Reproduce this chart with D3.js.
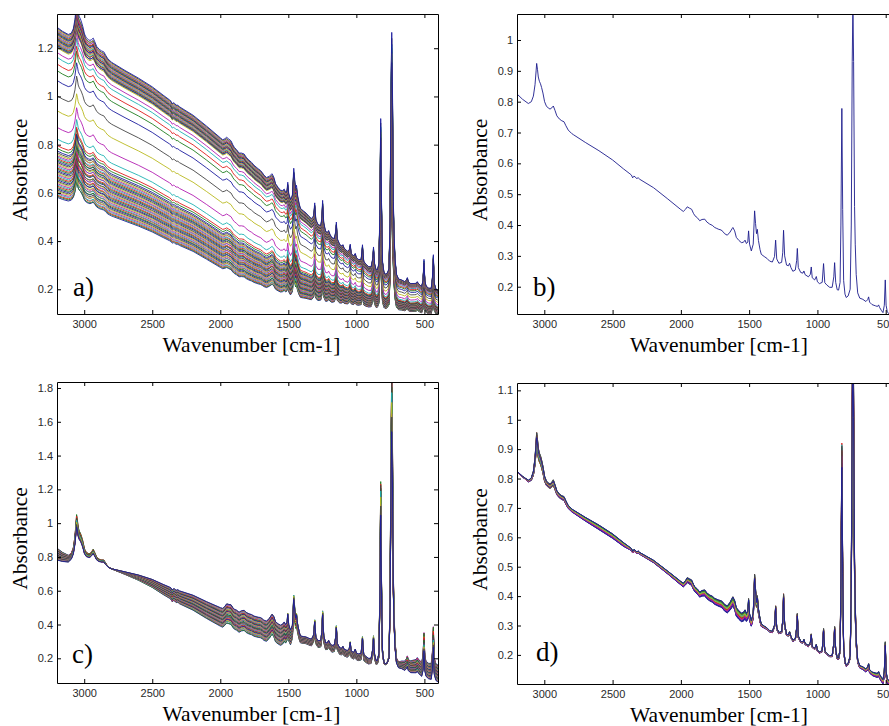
<!DOCTYPE html>
<html><head><meta charset="utf-8">
<script src="https://cdn.jsdelivr.net/npm/d3@7"></script>
<style>body{margin:0;background:#fff}svg{display:block}</style>
</head><body>
<svg id="chart" width="889" height="726"></svg>
<script>
// ---------------- DATA ----------------
// Mean spectrum shown in panel b): wavenumber [cm-1] and absorbance
const wavenumbers = [3200,3160,3117,3095,3080,3068,3060,3056,3050,3044,3036,3028,3020,3010,2998,2985,2970,2958,2945,2934,2922,2908,2890,2872,2856,2842,2825,2800,2787,2700,2600,2500,2420,2373,2362,2353,2345,2336,2325,2312,2300,2200,2100,2000,1982,1966,1953,1938,1921,1908,1897,1880,1862,1845,1825,1810,1789,1770,1752,1737,1722,1706,1692,1680,1660,1640,1625,1619,1606,1594,1575,1557,1542,1530,1520,1510,1504,1497,1484,1470,1460,1453,1446,1440,1432,1420,1411,1390,1370,1350,1330,1314,1306,1298,1282,1262,1254,1248,1240,1226,1212,1204,1194,1180,1162,1152,1147,1140,1122,1106,1099,1090,1066,1052,1045,1038,1020,1008,1000,985,965,955,946,930,910,892,880,874,866,855,845,834,828,821,815,808,798,789,775,760,752,745,740,735,728,723,716,705,690,667,645,632,625,618,600,575,560,552,545,530,520,510,503,497,488,470,450,441,434,428,415,400];
const meanAbsorbance = [0.825,0.808,0.794,0.800,0.818,0.855,0.900,0.924,0.905,0.880,0.866,0.858,0.846,0.828,0.800,0.786,0.779,0.776,0.780,0.786,0.772,0.754,0.744,0.738,0.735,0.722,0.708,0.697,0.693,0.668,0.641,0.611,0.582,0.566,0.562,0.553,0.558,0.557,0.551,0.553,0.548,0.521,0.486,0.450,0.444,0.451,0.459,0.455,0.451,0.438,0.430,0.424,0.414,0.418,0.419,0.410,0.403,0.399,0.392,0.389,0.386,0.384,0.379,0.372,0.367,0.377,0.388,0.392,0.381,0.360,0.350,0.343,0.344,0.351,0.340,0.345,0.381,0.338,0.316,0.338,0.446,0.405,0.372,0.386,0.350,0.320,0.305,0.298,0.292,0.283,0.280,0.298,0.351,0.290,0.276,0.279,0.310,0.383,0.300,0.270,0.268,0.276,0.262,0.250,0.254,0.285,0.324,0.262,0.246,0.244,0.251,0.239,0.232,0.240,0.264,0.229,0.222,0.233,0.216,0.210,0.214,0.275,0.213,0.205,0.198,0.198,0.232,0.278,0.214,0.190,0.189,0.214,0.400,0.778,0.450,0.220,0.176,0.165,0.170,0.192,0.400,0.930,1.120,0.930,0.460,0.338,0.240,0.180,0.163,0.159,0.152,0.158,0.167,0.150,0.142,0.138,0.136,0.141,0.133,0.122,0.116,0.140,0.222,0.140,0.118,0.110,0.108,0.150,0.240,0.130,0.105,0.100];

// Smooth baseline under the peaks of the mean spectrum (valleys of panel b)
const baselineWn  = [3200,3117,2787,2373,2300,1982,1860,1680,1557,1484,1411,1350,1280,1225,1180,1120,1065,1020,985,930,855,789,690,600,520,470,400];
const baselineAbs = [0.825,0.794,0.693,0.566,0.548,0.444,0.413,0.372,0.343,0.316,0.305,0.283,0.275,0.268,0.250,0.245,0.232,0.222,0.210,0.205,0.190,0.165,0.160,0.142,0.116,0.110,0.100];

// Panel a) raw spectra: baseline edges of the bundle, level of each spectrum inside it, peak scale
const anchorsA   = [3200,2780,2270,1855,1400,1000,715,400];
const upperEdgeA = [1.287,1.135,0.945,0.761,0.530,0.330,0.245,0.195];
const lowerEdgeA = [0.582,0.500,0.374,0.250,0.165,0.135,0.115,0.095];
const levelsA = [0,0.007,0.013,0.021,0.028,0.036,0.043,0.051,0.058,0.066,0.073,0.081,0.089,0.096,0.104,0.112,0.119,0.127,0.135,0.142,0.150,0.158,0.166,0.173,0.181,0.189,0.197,0.205,0.213,0.221,0.229,0.237,0.245,0.254,0.263,0.273,0.288,0.305,
  0.343,0.411,0.509,0.597,0.687,0.745,0.784,0.824,0.852,
  0.882,0.888,0.893,0.898,0.903,0.908,0.914,0.919,0.924,0.929,0.934,0.939,0.944,0.949,0.954,0.959,0.964,0.969,0.974,0.979,0.984,0.989,0.995,1.0];
const peakScaleA = [0.62,0.58,0.66,0.60,0.71,0.57,0.64,0.69,0.61,0.74,0.59,0.67,0.63,0.72,0.60,0.68,0.65,0.76,0.62,0.70,0.58,0.73,0.66,0.64,0.78,0.61,0.69,0.67,0.75,0.63,0.71,0.68,0.80,0.66,0.72,0.70,0.77,0.74,
  0.78,0.80,0.74,0.83,0.79,0.85,0.81,0.84,0.86,
  0.88,0.95,0.86,0.99,0.90,0.93,1.02,0.87,0.97,0.91,1.00,0.89,0.94,0.98,0.90,1.04,0.88,0.96,0.92,1.01,0.91,0.97,0.93,1.06];

// Panel c) pre-processed spectra
const anchorsC = [3200,3117,2800,2350,2000,1850,1550,1400,1000,800,600,400];
const centerC  = [0.817,0.790,0.730,0.580,0.445,0.410,0.335,0.310,0.210,0.165,0.150,0.110];
const spreadC  = [-0.035,-0.020,0.000,0.035,0.055,0.060,0.060,0.020,0.020,0.005,-0.035,-0.050];
const levelsC  = [-1.0,-0.93,-0.86,-0.80,-0.74,-0.68,-0.62,-0.56,-0.50,-0.45,-0.39,-0.33,-0.28,-0.22,-0.17,-0.11,-0.06,0.0,0.05,0.11,0.16,0.22,0.27,0.33,0.38,0.44,0.50,0.55,0.61,0.67,0.73,0.79,0.85,0.91,0.96,1.0];
const peakScaleC = [1.52,1.38,1.66,1.45,1.74,1.41,1.58,1.49,1.80,1.43,1.62,1.55,1.70,1.40,1.64,1.47,1.77,1.51,1.60,1.44,1.68,1.53,1.72,1.46,1.57,1.65,1.42,1.75,1.50,1.61,1.48,1.69,1.56,1.63,1.54,1.45];

// Panel d) corrected spectra: small deviations from the mean spectrum
const anchorsD = [3200,3000,2800,2600,2400,2350,2000,1850,1700,1550,1450,1300,1000,800,600,400];
const spreadD  = [0.000,-0.010,-0.010,-0.015,-0.012,-0.006,-0.012,-0.018,-0.022,-0.030,-0.012,-0.004,-0.004,-0.004,-0.012,-0.016];
const levelsD  = [1.0,0.43,0.79,0.14,0.64,0.29,0.93,0.07,0.57,0.36,0.86,0.21,0.71,0.50,0.96,0.11,0.68,0.32,0.82,0.25,0.54,0.89,0.18,0.61,0.39,0.75,0.46,0.04,0.0];
const peakScaleD = [1.02,1.15,0.97,1.21,1.05,1.12,0.99,1.18,1.08,1.24,1.01,1.14,0.96,1.19,1.06,1.11,1.00,1.23,1.04,1.16,0.98,1.13,1.07,1.20,1.03,1.17,1.09,1.22,1.10];

// Ticks and texts
const xTickValues = [3000,2500,2000,1500,1000,500];
const yTicksA = [0.2,0.4,0.6,0.8,1,1.2];
const yTicksB = [0.2,0.3,0.4,0.5,0.6,0.7,0.8,0.9,1];
const yTicksC = [0.2,0.4,0.6,0.8,1,1.2,1.4,1.6,1.8];
const yTicksD = [0.2,0.3,0.4,0.5,0.6,0.7,0.8,0.9,1,1.1];
const panelLabels = ["a)","b)","c)","d)"];
const xTitle = "Wavenumber [cm-1]";
const yTitle = "Absorbance";
const lineColors = ["#1c1c9e","#1e7d1e","#e01c1c","#1eb2b2","#b21eb2","#b9b91e","#454545"];

// ---------------- HELPERS ----------------
function linearInterp(xsDesc, ys) {
  const X = xsDesc.slice().reverse(), Y = ys.slice().reverse();
  return x => {
    if (x <= X[0]) return Y[0];
    if (x >= X[X.length-1]) return Y[Y.length-1];
    let i = d3.bisectRight(X, x) - 1;
    const t = (x - X[i]) / (X[i+1] - X[i]);
    return Y[i] + t * (Y[i+1] - Y[i]);
  };
}
function smoothInterp(xsDesc, ys) {
  const X = xsDesc.slice().reverse(), Y = ys.slice().reverse();
  const n = X.length, d = [], m = new Array(n);
  for (let i = 0; i < n-1; i++) d.push((Y[i+1]-Y[i])/(X[i+1]-X[i]));
  m[0] = d[0]; m[n-1] = d[n-2];
  for (let i = 1; i < n-1; i++) m[i] = d[i-1]*d[i] <= 0 ? 0 : (d[i-1]+d[i])/2;
  for (let i = 0; i < n-1; i++) {
    if (d[i] === 0) { m[i] = 0; m[i+1] = 0; continue; }
    const a = m[i]/d[i], b = m[i+1]/d[i], s = a*a + b*b;
    if (s > 9) { const t = 3/Math.sqrt(s); m[i] = t*a*d[i]; m[i+1] = t*b*d[i]; }
  }
  return x => {
    if (x <= X[0]) return Y[0];
    if (x >= X[n-1]) return Y[n-1];
    let i = d3.bisectRight(X, x) - 1;
    const h = X[i+1]-X[i], t = (x - X[i]) / h;
    const t2 = t*t, t3 = t2*t;
    return (2*t3-3*t2+1)*Y[i] + (t3-2*t2+t)*h*m[i] + (-2*t3+3*t2)*Y[i+1] + (t3-t2)*h*m[i+1];
  };
}

const baseline = linearInterp(baselineWn, baselineAbs);
const peakPart = meanAbsorbance.map((v, k) => v - baseline(wavenumbers[k]));

function buildCurves(centerFn, spreadFn, levels, scales, colorFn) {
  return levels.map((t, i) => ({
    color: colorFn(i),
    points: wavenumbers.map((w, k) => [w, centerFn(w) + t * spreadFn(w) + scales[i] * peakPart[k]])
  }));
}
const cycleColor = i => lineColors[i % lineColors.length];

const curvesA = buildCurves(smoothInterp(anchorsA, lowerEdgeA),
  smoothInterp(anchorsA, upperEdgeA.map((u, i) => u - lowerEdgeA[i])), levelsA, peakScaleA, cycleColor);
const curvesB = buildCurves(baseline, () => 0, [0], [1], () => "#1c1c8c");
const curvesC = buildCurves(smoothInterp(anchorsC, centerC), smoothInterp(anchorsC, spreadC), levelsC, peakScaleC, cycleColor);
const curvesD = buildCurves(baseline, smoothInterp(anchorsD, spreadD), levelsD, peakScaleD, cycleColor);

// ---------------- LAYOUT ----------------
const panels = [
  {x0:57,  x1:438, y0:14,  y1:314, xDomain:[3200,400], yDomain:[0.0975,1.342], yTicks:yTicksA, curves:curvesA, label:panelLabels[0], lx:16, ly:-18},
  {x0:517, x1:913, y0:14,  y1:314, xDomain:[3200,300], yDomain:[0.1115,1.0843], yTicks:yTicksB, curves:curvesB, label:panelLabels[1], lx:16, ly:-18},
  {x0:57,  x1:438, y0:382, y1:683, xDomain:[3200,400], yDomain:[0.0538,1.8355], yTicks:yTicksC, curves:curvesC, label:panelLabels[2], lx:15, ly:-20},
  {x0:517, x1:913, y0:383, y1:684, xDomain:[3200,300], yDomain:[0.101,1.125], yTicks:yTicksD, curves:curvesD, label:panelLabels[3], lx:19, ly:-23}
];

const svg = d3.select("#chart");
svg.append("rect").attr("width", 889).attr("height", 726).attr("fill", "#fff");
const fmt = d3.format("~g");
const serif = "'Liberation Serif','Times New Roman',serif";
const sans = "'Liberation Sans',Arial,sans-serif";

panels.forEach((p, pi) => {
  const x = d3.scaleLinear().domain(p.xDomain).range([p.x0, p.x1]);
  const y = d3.scaleLinear().domain(p.yDomain).range([p.y1, p.y0]);
  const clipId = "clip" + pi;
  svg.append("clipPath").attr("id", clipId).append("rect")
    .attr("x", p.x0).attr("y", p.y0).attr("width", p.x1 - p.x0).attr("height", p.y1 - p.y0);

  const line = d3.line().x(d => x(d[0])).y(d => y(d[1]));
  svg.append("g").attr("clip-path", `url(#${clipId})`)
    .selectAll("path").data(p.curves).join("path")
    .attr("d", d => line(d.points))
    .attr("fill", "none").attr("stroke", d => d.color)
    .attr("stroke-width", 0.9).attr("stroke-linejoin", "round");

  const styleAxis = g => {
    g.selectAll(".domain").attr("stroke", "#000").attr("stroke-width", 1);
    g.selectAll(".tick line").attr("stroke", "#000");
    g.selectAll("text").attr("font-family", sans).attr("font-size", 11).attr("fill", "#2a2a2a");
  };
  svg.append("g").attr("transform", `translate(0,${p.y1})`)
    .call(d3.axisBottom(x).tickValues(xTickValues).tickSizeInner(-4).tickSizeOuter(0).tickPadding(6).tickFormat(fmt))
    .call(styleAxis);
  svg.append("g").attr("transform", `translate(0,${p.y0})`)
    .call(d3.axisTop(x).tickValues(xTickValues).tickSizeInner(-4).tickSizeOuter(0).tickFormat(""))
    .call(styleAxis);
  svg.append("g").attr("transform", `translate(${p.x0},0)`)
    .call(d3.axisLeft(y).tickValues(p.yTicks).tickSizeInner(-4).tickSizeOuter(0).tickPadding(4).tickFormat(fmt))
    .call(styleAxis);
  svg.append("g").attr("transform", `translate(${p.x1},0)`)
    .call(d3.axisRight(y).tickValues(p.yTicks).tickSizeInner(-4).tickSizeOuter(0).tickFormat(""))
    .call(styleAxis);

  svg.append("text").text(xTitle)
    .attr("x", (p.x0 + p.x1) / 2 + 4).attr("y", p.y1 + 38)
    .attr("text-anchor", "middle").attr("font-family", serif).attr("font-size", 21.5).attr("fill", "#000");
  svg.append("text").text(yTitle)
    .attr("transform", `translate(${p.x0 - 30.5},${(p.y0 + p.y1) / 2 + 6}) rotate(-90)`)
    .attr("text-anchor", "middle").attr("font-family", serif).attr("font-size", 21.5).attr("fill", "#000");
  svg.append("text").text(p.label)
    .attr("x", p.x0 + p.lx).attr("y", p.y1 + p.ly)
    .attr("font-family", serif).attr("font-size", 27).attr("fill", "#000");
});
</script>
</body></html>
